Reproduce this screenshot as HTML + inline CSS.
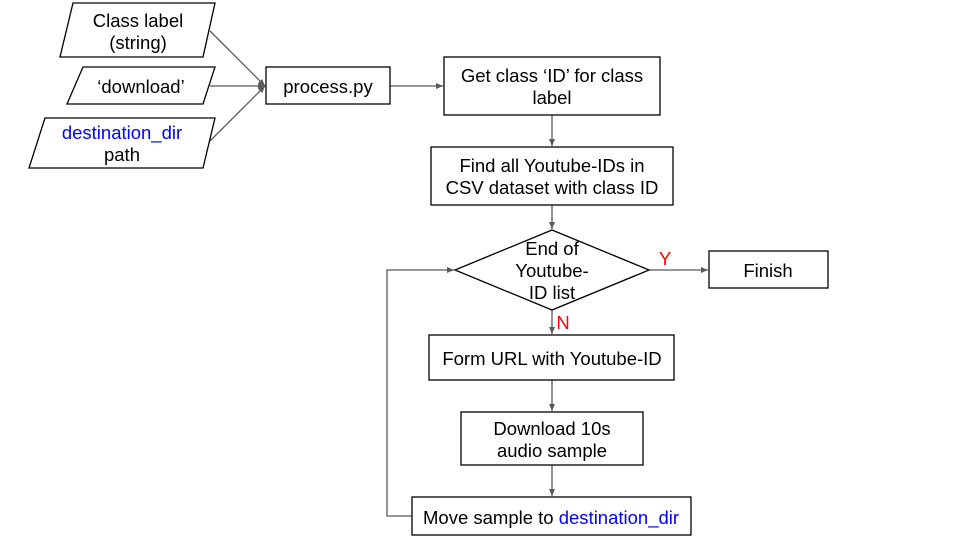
<!DOCTYPE html>
<html><head><meta charset="utf-8"><style>
html,body{margin:0;padding:0;background:#fff;}
svg{display:block;}
text{font-family:"Liberation Sans",Arial,sans-serif;font-size:18.5px;fill:#000;}
</style></head><body>
<svg width="960" height="540" viewBox="0 0 960 540" xmlns="http://www.w3.org/2000/svg">
<defs>
<marker id="a" markerWidth="8" markerHeight="8" refX="7" refY="4" orient="auto" markerUnits="userSpaceOnUse">
<path d="M0,1 L7,4 L0,7 z" fill="#595959"/>
</marker>
</defs>
<g fill="none" stroke="#595959" stroke-width="1.3">
<line x1="210" y1="31" x2="265" y2="86" marker-end="url(#a)"/>
<line x1="210" y1="86" x2="265" y2="86" marker-end="url(#a)"/>
<line x1="210" y1="141" x2="265" y2="86" marker-end="url(#a)"/>
<line x1="390" y1="86" x2="443" y2="86" marker-end="url(#a)"/>
<line x1="552" y1="115" x2="552" y2="146" marker-end="url(#a)"/>
<line x1="552" y1="205" x2="552" y2="229" marker-end="url(#a)"/>
<line x1="649" y1="270" x2="708" y2="270" marker-end="url(#a)"/>
<line x1="552" y1="310" x2="552" y2="334" marker-end="url(#a)"/>
<line x1="552" y1="380" x2="552" y2="411" marker-end="url(#a)"/>
<line x1="552" y1="465" x2="552" y2="496" marker-end="url(#a)"/>
<polyline points="412,516 387,516 387,270 454,270" marker-end="url(#a)"/>
</g>
<g fill="#fff" stroke="#000" stroke-width="1.3">
<polygon points="73,3 215,3 203,57 60,57"/>
<polygon points="83,67 215,67 203,104 67,104"/>
<polygon points="45,118 215,118 203,168 29,168"/>
<rect x="266" y="67" width="124" height="37"/>
<rect x="444" y="57" width="216" height="58"/>
<rect x="431" y="147" width="242" height="58"/>
<polygon points="552,230 649,270 552,310 455,270"/>
<rect x="709" y="251" width="119" height="37"/>
<rect x="429" y="335" width="245" height="45"/>
<rect x="461" y="412" width="182" height="53"/>
<rect x="412" y="497" width="279" height="38"/>
</g>
<g text-anchor="middle">
<text x="138" y="27">Class label</text>
<text x="138" y="49">(string)</text>
<text x="141" y="93">‘download’</text>
<text x="122" y="139" style="fill:#0000ff">destination_dir</text>
<text x="122" y="161">path</text>
<text x="328" y="93">process.py</text>
<text x="552" y="82">Get class ‘ID’ for class</text>
<text x="552" y="104">label</text>
<text x="552" y="172">Find all Youtube-IDs in</text>
<text x="552" y="194">CSV dataset with class ID</text>
<text x="552" y="255">End of</text>
<text x="552" y="277">Youtube-</text>
<text x="552" y="299">ID list</text>
<text x="768" y="277">Finish</text>
<text x="552" y="365">Form URL with Youtube-ID</text>
<text x="552" y="435">Download 10s</text>
<text x="552" y="457">audio sample</text>
<text x="665" y="265" style="fill:#ff0000">Y</text>
<text x="563" y="329" style="fill:#ff0000">N</text>
</g>
<text x="423" y="524">Move sample to <tspan style="fill:#0000ff">destination_dir</tspan></text>
</svg>
</body></html>
